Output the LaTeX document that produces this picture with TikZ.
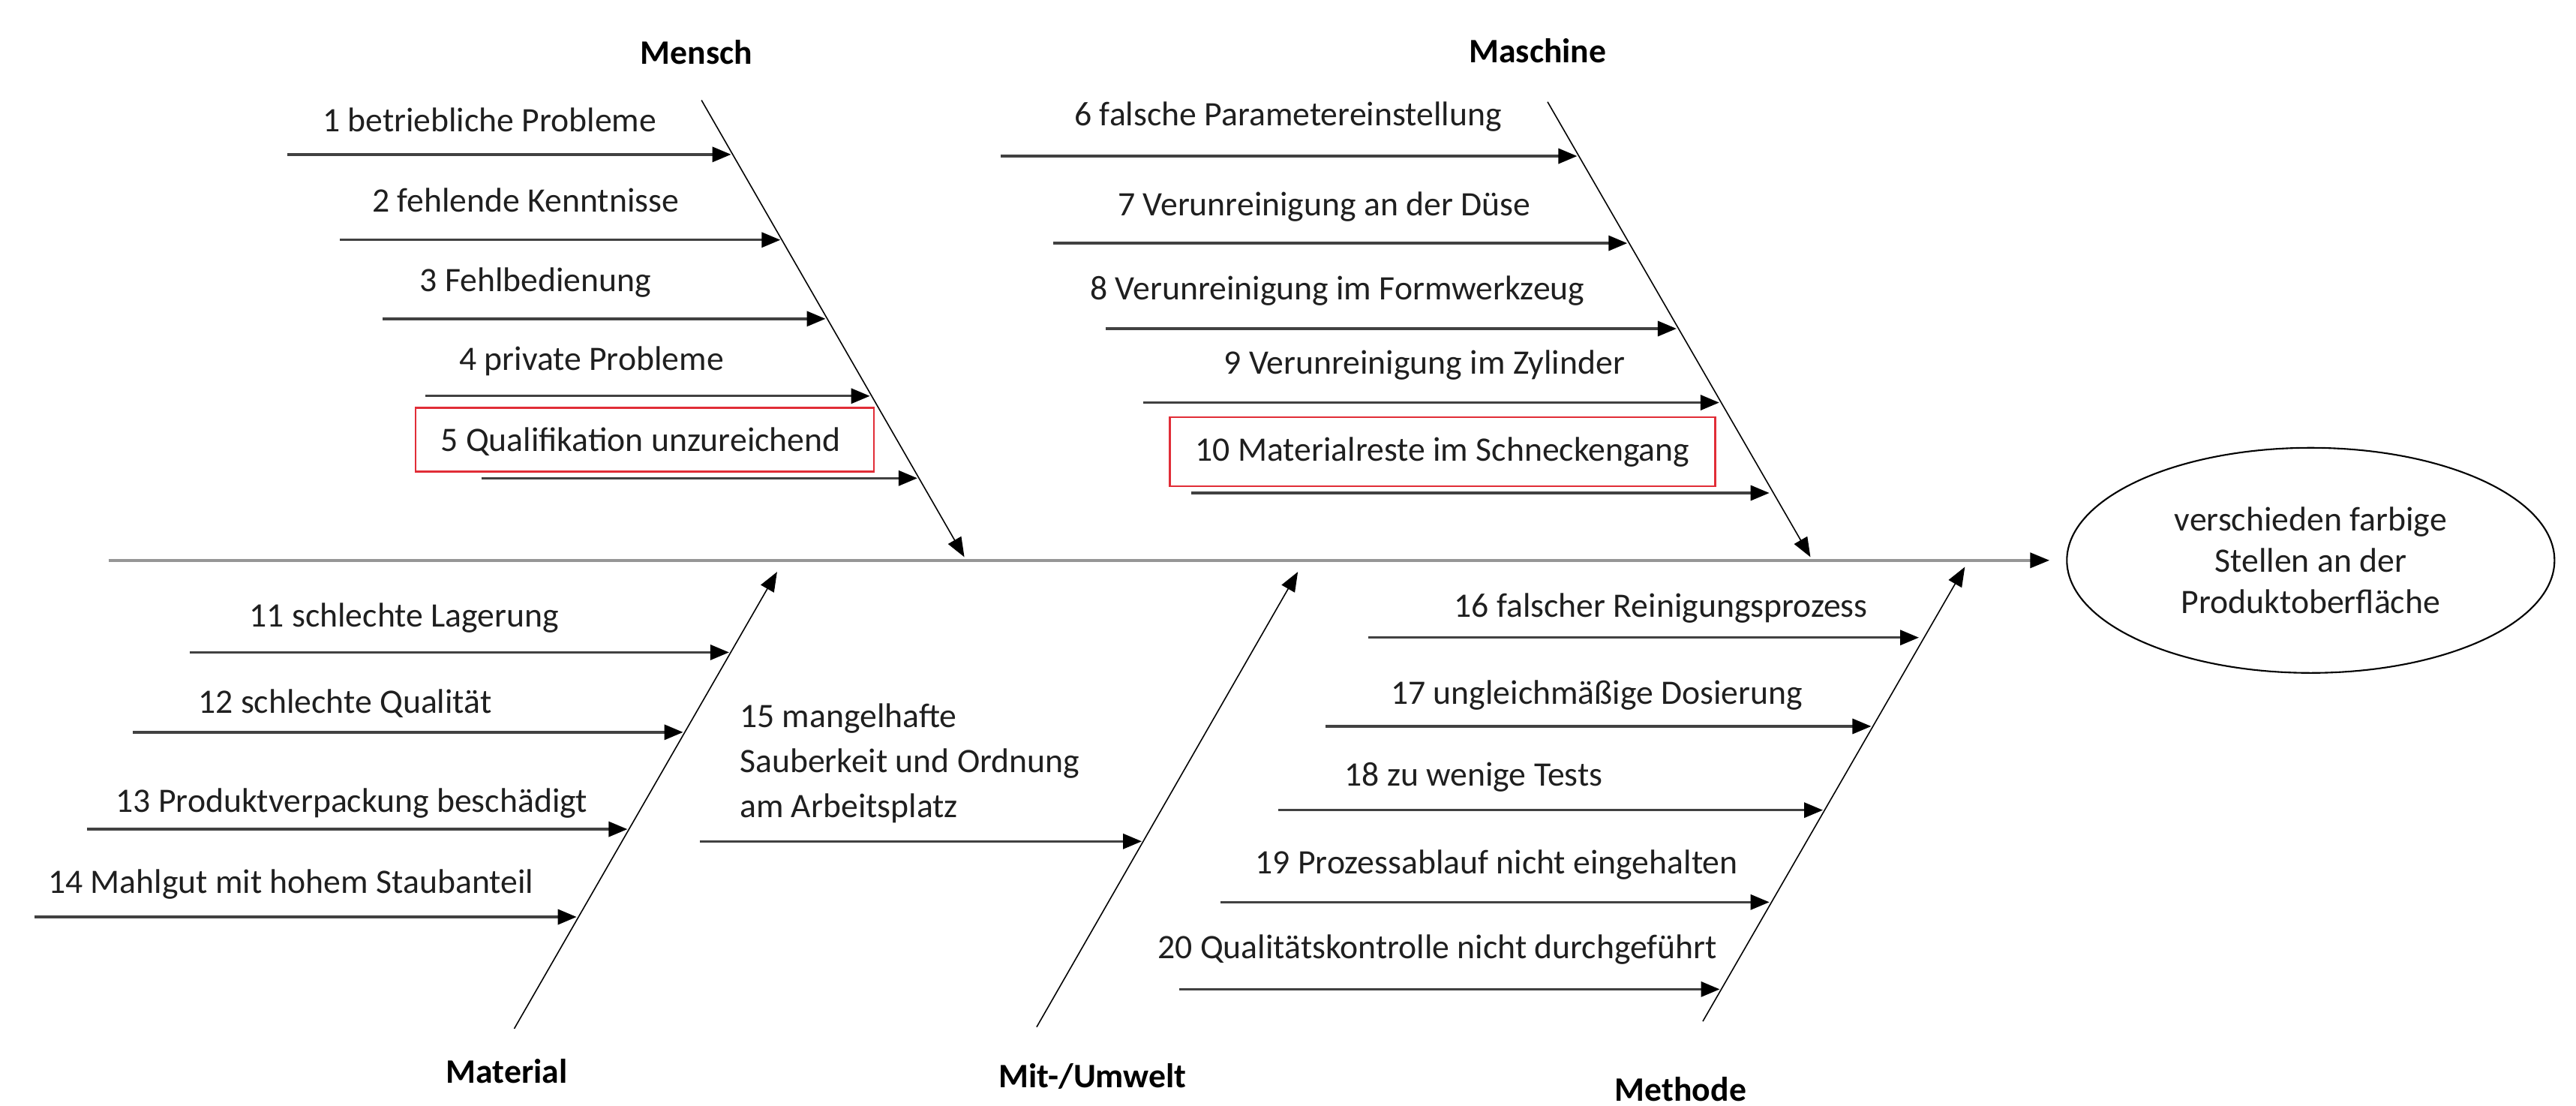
\documentclass[tikz,border=0pt]{standalone}
\usepackage{fontspec}
\setmainfont{Carlito}
\usepackage{tikz}
\usetikzlibrary{arrows.meta, positioning, shapes.geometric}

\definecolor{markred}{RGB}{225,45,55}
\definecolor{twiggray}{RGB}{65,65,65}
\definecolor{spinegray}{RGB}{150,150,150}

\begin{document}
\begin{tikzpicture}[x=0.219mm, y=-0.219mm]
            % Define styles
            \tikzstyle{cause} = [font=\fontsize{13}{15.6}\selectfont, text=black!88, inner sep=0pt]
            \tikzstyle{category} = [font=\fontsize{13}{15.6}\selectfont\bfseries, inner sep=0pt]
            \tikzstyle{twig} = [draw=twiggray, line width=0.95pt, -{Triangle[length=2.5mm, width=2mm, color=black]}]
            \tikzstyle{bone} = [draw, line width=0.45pt, -{Triangle[length=2.6mm, width=2mm]}]
            \tikzstyle{spine} = [draw=spinegray, line width=1.2pt, -{Triangle[length=2.6mm, width=2mm, color=black]}]
            \tikzstyle{redbox} = [draw=markred, line width=0.7pt, inner sep=0pt]
            \tikzstyle{effect} = [ellipse, draw, line width=0.6pt, minimum width=65mm, minimum height=30mm, align=center, font=\fontsize{13}{15.6}\selectfont, text=black!88]

            \useasboundingbox (0,0) rectangle (1568,673);

            % Effect and spine
            \node[effect] (effect) at (1406.5,341) {verschieden farbige\\Stellen an der\\Produktoberfläche};
            \coordinate (tail) at (66,341);
            \draw[spine, shorten >=2.2mm] (tail) -- (effect.west);

            % Category labels
            \node[category] (mensch) at (424,32) {Mensch};
            \node[category] (maschine) at (936,31) {Maschine};
            \node[category] (material) at (308.5,652) {Material};
            \node[category] (umwelt) at (665,655) {Mit-/Umwelt};
            \node[category] (methode) at (1023,663) {Methode};

            % Main bones
            \coordinate (menschtop) at (427,61);
            \coordinate (menschend) at (587,339);
            \coordinate (maschinetop) at (942,62);
            \coordinate (maschineend) at (1102,339);
            \coordinate (materialbot) at (313,626);
            \coordinate (materialend) at (473,348);
            \coordinate (umweltbot) at (631,625);
            \coordinate (umweltend) at (790,348);
            \coordinate (methodebot) at (1036.5,621.5);
            \coordinate (methodeend) at (1196,345);
            \draw[bone] (menschtop) -- (menschend);
            \draw[bone] (maschinetop) -- (maschineend);
            \draw[bone] (materialbot) -- (materialend);
            \draw[bone] (umweltbot) -- (umweltend);
            \draw[bone] (methodebot) -- (methodeend);

            % Mensch
            \node[cause] (c1) at (298,73) {1 betriebliche Probleme};
            \node[cause] (c2) at (320,122) {2 fehlende Kenntnisse};
            \node[cause] (c3) at (326,172) {3 Fehlbedienung};
            \node[cause] (c4) at (360,220) {4 private Probleme};
            \node[redbox, minimum width=61.1mm, minimum height=8.5mm] (box5) at (392.5,267.5) {};
            \node[cause] (c5) at (390,269) {5 Qualifikation unzureichend};
            \coordinate (c1s) at (175,94);   \coordinate (c1e) at (445,94);
            \coordinate (c2s) at (207,146);  \coordinate (c2e) at (475,146);
            \coordinate (c3s) at (233,194);  \coordinate (c3e) at (502.5,194);
            \coordinate (c4s) at (259,241);  \coordinate (c4e) at (529.5,241);
            \coordinate (c5s) at (293,291);  \coordinate (c5e) at (558.4,291);
            \draw[twig] (c1s) -- (c1e);
            \draw[twig] (c2s) -- (c2e);
            \draw[twig] (c3s) -- (c3e);
            \draw[twig] (c4s) -- (c4e);
            \draw[twig] (c5s) -- (c5e);

            % Maschine
            \node[cause] (c6) at (784,71) {6 falsche Parametereinstellung};
            \node[cause] (c7) at (806,126) {7 Verunreinigung an der Düse};
            \node[cause] (c8) at (814,177) {8 Verunreinigung im Formwerkzeug};
            \node[cause] (c9) at (867,222) {9 Verunreinigung im Zylinder};
            \node[redbox, minimum width=72.7mm, minimum height=9.2mm] (box10) at (878,275) {};
            \node[cause] (c10) at (878,275) {10 Materialreste im Schneckengang};
            \coordinate (c6s) at (609,95);   \coordinate (c6e) at (960,95);
            \coordinate (c7s) at (641,148);  \coordinate (c7e) at (990.5,148);
            \coordinate (c8s) at (673,200);  \coordinate (c8e) at (1020.5,200);
            \coordinate (c9s) at (696,245);  \coordinate (c9e) at (1046.5,245);
            \coordinate (c10s) at (725,300); \coordinate (c10e) at (1077,300);
            \draw[twig] (c6s) -- (c6e);
            \draw[twig] (c7s) -- (c7e);
            \draw[twig] (c8s) -- (c8e);
            \draw[twig] (c9s) -- (c9e);
            \draw[twig] (c10s) -- (c10e);

            % Material
            \node[cause] (c11) at (246,376) {11 schlechte Lagerung};
            \node[cause] (c12) at (210,428) {12 schlechte Qualität};
            \node[cause] (c13) at (214,489) {13 Produktverpackung beschädigt};
            \node[cause] (c14) at (177,538) {14 Mahlgut mit hohem Staubanteil};
            \coordinate (c11s) at (115.5,397); \coordinate (c11e) at (443.8,397);
            \coordinate (c12s) at (81,445.6);  \coordinate (c12e) at (415.8,445.6);
            \coordinate (c13s) at (53,504.6);  \coordinate (c13e) at (381.9,504.6);
            \coordinate (c14s) at (21,558);    \coordinate (c14e) at (351,558);
            \draw[twig] (c11s) -- (c11e);
            \draw[twig] (c12s) -- (c12e);
            \draw[twig] (c13s) -- (c13e);
            \draw[twig] (c14s) -- (c14e);

            % Mit-/Umwelt
            \node[cause, anchor=west, align=left, font=\fontsize{13}{17}\selectfont] (c15) at (450,464.5) {15 mangelhafte\\Sauberkeit und Ordnung\\am Arbeitsplatz};
            \coordinate (c15s) at (426,512); \coordinate (c15e) at (695,512);
            \draw[twig] (c15s) -- (c15e);

            % Methode
            \node[cause] (c16) at (1011,370) {16 falscher Reinigungsprozess};
            \node[cause] (c17) at (972,423) {17 ungleichmäßige Dosierung};
            \node[cause] (c18) at (897,473) {18 zu wenige Tests};
            \node[cause] (c19) at (911,526.5) {19 Prozessablauf nicht eingehalten};
            \node[cause] (c20) at (875,578) {20 Qualitätskontrolle nicht durchgeführt};
            \coordinate (c16s) at (833,388); \coordinate (c16e) at (1168,388);
            \coordinate (c17s) at (807,442); \coordinate (c17e) at (1139,442);
            \coordinate (c18s) at (778,493); \coordinate (c18e) at (1109.6,493);
            \coordinate (c19s) at (743,549); \coordinate (c19e) at (1077,549);
            \coordinate (c20s) at (718,602); \coordinate (c20e) at (1046.8,602);
            \draw[twig] (c16s) -- (c16e);
            \draw[twig] (c17s) -- (c17e);
            \draw[twig] (c18s) -- (c18e);
            \draw[twig] (c19s) -- (c19e);
            \draw[twig] (c20s) -- (c20e);
\end{tikzpicture}
\end{document}
